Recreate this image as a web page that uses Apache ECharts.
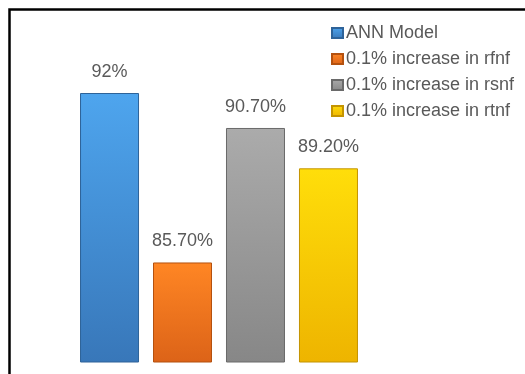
<!DOCTYPE html>
<html><head><meta charset="utf-8">
<script src="https://cdn.jsdelivr.net/npm/echarts@6/dist/echarts.min.js"></script>
<style>html,body{margin:0;padding:0;background:#fff}#c{width:525px;height:374px}</style>
</head><body><div id="c"></div>
<script>
const categories = ['Accuracy'];
const seriesNames = ['ANN Model', '0.1% increase in rfnf', '0.1% increase in rsnf', '0.1% increase in rtnf'];
const seriesValues = [92, 85.7, 90.7, 89.2];
const valueLabels = ['92%', '85.70%', '90.70%', '89.20%'];
const palette = [
  ['#4ea5ee', '#3877b9', '#2e6399'],
  ['#ff8624', '#dc6318', '#b4510f'],
  ['#ababab', '#878787', '#6a6a6a'],
  ['#ffde0a', '#eeb400', '#c49400']
];
const chart = echarts.init(document.getElementById('c'));
const font = "'Liberation Sans', Arial, sans-serif";
chart.setOption({
  animation: false,
  grid: { left: 20, width: 398, top: 93, bottom: 12 },
  xAxis: { type: 'category', data: categories, show: false },
  yAxis: { type: 'value', min: 82, max: 92, show: false, splitLine: { show: false } },
  legend: {
    orient: 'vertical', left: 326, top: 19, itemWidth: 11, itemHeight: 10, itemGap: 8,
    icon: 'rect',
    textStyle: { fontFamily: font, fontSize: 18, color: '#595959', padding: [0, 0, 0, -2] }
  },
  graphic: [{
    type: 'rect', shape: { x: 9.5, y: 9.5, width: 600, height: 400 },
    style: { fill: 'none', stroke: '#000', lineWidth: 2.5 }, silent: true
  }],
  series: seriesNames.map((name, i) => ({
    name, type: 'bar', barWidth: 59, barGap: '23.7%',
    data: [{ value: seriesValues[i], label: { formatter: valueLabels[i] } }],
    itemStyle: {
      color: new echarts.graphic.LinearGradient(0, 0, 0, 1, [
        { offset: 0, color: palette[i][0] }, { offset: 1, color: palette[i][1] }
      ]),
      borderColor: palette[i][2], borderWidth: 1
    },
    label: { show: true, position: 'top', distance: 12, fontFamily: font, fontSize: 18, color: '#595959' }
  }))
});
</script></body></html>
